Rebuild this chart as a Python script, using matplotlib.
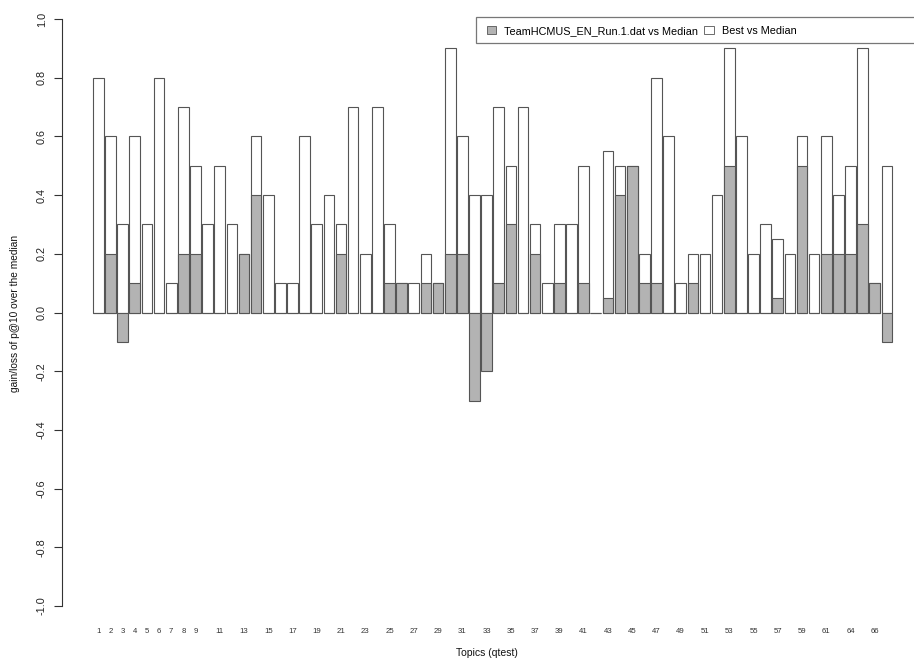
import matplotlib
matplotlib.use("Agg")
import matplotlib.pyplot as plt
from matplotlib.patches import Rectangle, Patch

plt.rcParams["font.family"] = ["Liberation Sans", "DejaVu Sans"]

# topic ids (one topic between 61 and 64 absent)
topics = list(range(1, 63)) + [64, 65, 66, 67]

best = [0.8, 0.6, 0.3, 0.6, 0.3, 0.8, 0.1, 0.7, 0.5, 0.3,
        0.5, 0.3, 0.2, 0.6, 0.4, 0.1, 0.1, 0.6, 0.3, 0.4,
        0.3, 0.7, 0.2, 0.7, 0.3, 0.1, 0.1, 0.2, 0.1, 0.9,
        0.6, 0.4, 0.4, 0.7, 0.5, 0.7, 0.3, 0.1, 0.3, 0.3,
        0.5, 0.0, 0.55, 0.5, 0.5, 0.2, 0.8, 0.6, 0.1, 0.2,
        0.2, 0.4, 0.9, 0.6, 0.2, 0.3, 0.25, 0.2, 0.6, 0.2,
        0.6, 0.4, 0.5, 0.9, 0.1, 0.5]

run = [0.0, 0.2, -0.1, 0.1, 0.0, 0.0, 0.0, 0.2, 0.2, 0.0,
       0.0, 0.0, 0.2, 0.4, 0.0, 0.0, 0.0, 0.0, 0.0, 0.0,
       0.2, 0.0, 0.0, 0.0, 0.1, 0.1, 0.0, 0.1, 0.1, 0.2,
       0.2, -0.3, -0.2, 0.1, 0.3, 0.0, 0.2, 0.0, 0.1, 0.0,
       0.1, 0.0, 0.05, 0.4, 0.5, 0.1, 0.1, 0.0, 0.0, 0.1,
       0.0, 0.0, 0.5, 0.0, 0.0, 0.0, 0.05, 0.0, 0.5, 0.0,
       0.2, 0.2, 0.2, 0.3, 0.1, -0.1]

run_label = "TeamHCMUS_EN_Run.1.dat vs Median"
best_label = "Best vs Median"

W, H = 914, 660
fig = plt.figure(figsize=(W / 100, H / 100), dpi=100)
ax = fig.add_axes([62 / W, 1 - 606 / H, (W - 62) / W, (606 - 19) / H])

pos = list(range(len(topics)))
edge = "#555555"
gray = "#b3b3b3"
ax.bar(pos, best, width=0.88, color="white", edgecolor=edge, linewidth=0.8)
ax.bar(pos, run, width=0.88, color=gray, edgecolor=edge, linewidth=0.8)

ax.set_xlim(-3.0, 67.23)
ax.set_ylim(-1, 1)

for s in ["top", "right", "bottom"]:
    ax.spines[s].set_visible(False)
ax.spines["left"].set_color("#333333")
ax.spines["left"].set_linewidth(0.8)

ax.set_yticks([-1.0, -0.8, -0.6, -0.4, -0.2, 0.0, 0.2, 0.4, 0.6, 0.8, 1.0])
ax.set_yticklabels([f"{v:.1f}" for v in ax.get_yticks()], rotation=90,
                   va="center", fontsize=7.8, color="#222222")
ax.tick_params(axis="y", direction="out", length=6, width=0.8, pad=5,
               color="#333333")

shown = [i for i in pos if i < 9 or i % 2 == 0]
ax.set_xticks(shown)
ax.set_xticklabels([str(topics[i]) for i in shown], fontsize=5.6,
                   color="#333333")
ax.tick_params(axis="x", length=0, pad=16)

fig.text(487 / W, 1 - 653 / H, "Topics (qtest)", ha="center", va="center",
         fontsize=7.5, color="#111111")
fig.text(15 / W, 1 - 313 / H, "gain/loss of p@10 over the median",
         rotation=90, ha="center", va="center", fontsize=7.3, color="#111111")

# legend box runs off the right edge like in the source image
fig.patches.append(Rectangle((476 / W, 1 - 43 / H), (W + 20 - 476) / W,
                             26 / H, transform=fig.transFigure,
                             facecolor="white", edgecolor="#777777",
                             linewidth=0.9, clip_on=False, zorder=5))
handles = [Patch(facecolor=gray, edgecolor=edge, linewidth=0.6),
           Patch(facecolor="white", edgecolor=edge, linewidth=0.6)]
leg = fig.legend(handles, [run_label, best_label], ncol=2,
                 loc="center left", bbox_to_anchor=(479 / W, 1 - 31 / H),
                 frameon=False, fontsize=7.8, handlelength=0.9,
                 handleheight=0.8, handletextpad=0.7, columnspacing=0.6,
                 borderpad=0.2)
leg.set_zorder(6)

fig.savefig("out.png", dpi=100)
